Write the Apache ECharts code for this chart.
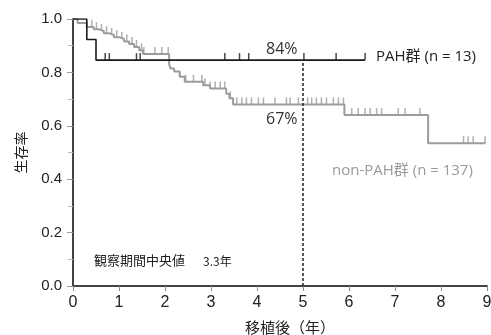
<!DOCTYPE html>
<html><head><meta charset="utf-8">
<script src="https://cdn.jsdelivr.net/npm/echarts@6/dist/echarts.min.js"></script>
<style>html,body{margin:0;padding:0;background:#fff}#c{width:491px;height:335px}</style>
</head><body><div id="c"></div>
<script>
// PAH group: KM step points [time(yr), survival]
const pahSteps = [[0,1.0],[0.3,0.923],[0.5,0.846],[6.35,0.846]];
const pahCensor = [0.7,0.79,1.38,1.46,3.3,3.62,3.82,5.02,5.72,6.35];
// non-PAH group
const nonSteps = [[0,1.0],[0.1,0.985],[0.3,0.97],[0.45,0.962],[0.56,0.955],[0.67,0.947],[0.78,0.94],[0.89,0.932],[1.0,0.925],[1.11,0.916],[1.22,0.906],[1.33,0.895],[1.44,0.883],[1.52,0.869],[2.09,0.83],[2.12,0.815],[2.2,0.803],[2.32,0.784],[2.43,0.765],[2.83,0.752],[2.98,0.74],[3.33,0.72],[3.4,0.703],[3.48,0.68],[5.9,0.64],[7.72,0.535],[8.96,0.535]];
const nonCensor = [0.41,0.51,0.62,0.73,0.84,0.95,1.06,1.17,1.28,1.38,1.49,1.54,1.78,1.93,2.07,2.45,2.62,2.8,2.87,2.98,3.09,3.2,3.3,3.42,3.56,3.67,3.77,3.88,4.03,4.14,4.39,4.64,4.72,4.9,5.1,5.19,5.29,5.4,5.51,5.66,5.77,5.88,6.06,6.2,6.35,6.46,6.6,6.71,7.07,7.22,7.54,7.72,8.49,8.59,8.7,8.96];
const xTicks = [0,1,2,3,4,5,6,7,8,9];
const yTicks = [0,0.2,0.4,0.6,0.8,1.0];
const pahLabel = 'PAH群 (n = 13)';
const nonLabel = 'non-PAH群 (n = 137)';
const pahAt5 = '84%';
const nonAt5 = '67%';
const medianNote = '観察期間中央値';
const medianValue = '3.3年';

function survAt(steps, t){ let s = steps[0][1]; for (const p of steps){ if (p[0] <= t + 1e-9) s = p[1]; } return s; }

const chart = echarts.init(document.getElementById('c'));
const cjk = '"Noto Sans CJK JP", "Noto Sans", sans-serif';
const lat = '"Open Sans", "Noto Sans CJK JP", sans-serif';
const tickSym = {symbol:'rect', symbolSize:[1.5,7], symbolOffset:[0,-3.5]};
chart.setOption({
  animation:false,
  grid:{left:73,right:4,top:19,bottom:49,containLabel:false,outerBoundsMode:'none'},
  xAxis:{type:'value',min:0,max:9,interval:1,
    name:'移植後（年）',nameLocation:'middle',nameGap:34,
    nameTextStyle:{fontFamily:cjk,fontSize:15,color:'#222',padding:[0,0,0,20]},
    axisLine:{lineStyle:{color:'#444',width:2}},
    axisTick:{length:5,lineStyle:{color:'#888'}},
    axisLabel:{fontFamily:'Liberation Sans, Arial',fontSize:16,color:'#222',margin:9},
    splitLine:{show:false}},
  yAxis:{type:'value',min:0,max:1,interval:0.2,
    name:'生存率',nameLocation:'middle',nameGap:45,
    nameTextStyle:{fontFamily:cjk,fontSize:14,color:'#222'},
    axisLine:{show:true,lineStyle:{color:'#444',width:2}},
    axisTick:{show:true,length:6,lineStyle:{color:'#999'}},
    minorTick:{show:true,splitNumber:2,length:5,lineStyle:{color:'#bbb'}},
    axisLabel:{fontFamily:'Liberation Sans, Arial',fontSize:15,color:'#222',margin:11,formatter:v=>v.toFixed(1)},
    splitLine:{show:false}},
  series:[
    {type:'line',step:'end',data:nonSteps,symbol:'none',lineStyle:{color:'#9c9c9c',width:2},z:2},
    {type:'scatter',data:nonCensor.map(t=>[t,survAt(nonSteps,t)]),...tickSym,itemStyle:{color:'#9c9c9c'},z:2},
    {type:'line',step:'end',data:pahSteps,symbol:'none',lineStyle:{color:'#1a1a1a',width:1.6},z:3,
      markLine:{silent:true,symbol:'none',label:{show:false},
        lineStyle:{color:'#222',type:[3,2],width:1.5},
        data:[[{coord:[5,0]},{coord:[5,survAt(pahSteps,5)]}]]}},
    {type:'scatter',data:pahCensor.map(t=>[t,survAt(pahSteps,t)]),...tickSym,itemStyle:{color:'#1a1a1a'},z:3}
  ],
  graphic:[
    {type:'text',left:266,top:41,style:{text:pahAt5,font:'16px '+lat,fill:'#333'}},
    {type:'text',left:266,top:111,style:{text:nonAt5,font:'16px '+lat,fill:'#333'}},
    {type:'text',left:376,top:49,style:{text:pahLabel,font:'15px '+lat,fill:'#222'}},
    {type:'text',left:332,top:163,style:{text:nonLabel,font:'15px '+lat,fill:'#9a9a9a'}},
    {type:'text',left:94,top:254,style:{text:medianNote,font:'13px '+cjk,fill:'#222'}},
    {type:'text',left:203,top:255,style:{text:medianValue,font:'12px '+cjk,fill:'#222'}}
  ]
});
</script></body></html>
